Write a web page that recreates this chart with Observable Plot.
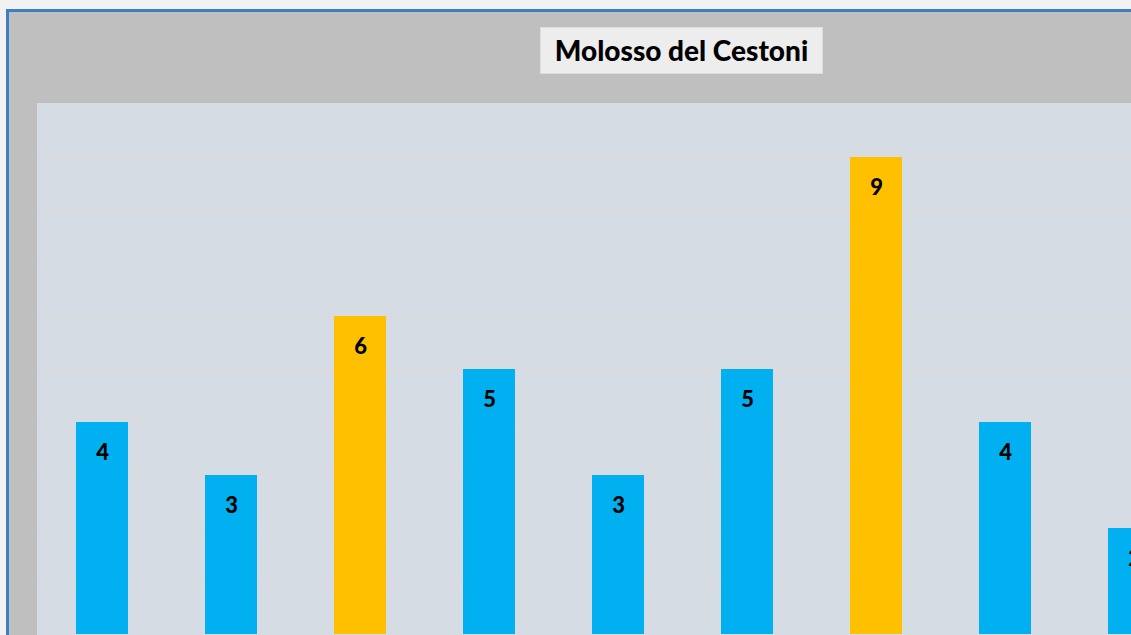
<!DOCTYPE html>
<html>
<head>
<meta charset="utf-8">
<script src="https://cdn.jsdelivr.net/npm/d3@7"></script>
<script src="https://cdn.jsdelivr.net/npm/@observablehq/plot@0.6"></script>
<style>
  html, body { margin: 0; padding: 0; }
  body { width: 1131px; height: 635px; overflow: hidden; background: #f2f2f2; position: relative; }
  #frame { position: absolute; left: 6px; top: 9px; width: 1300px; height: 700px;
           background: #bfbfbf; border: 3px solid #3f7fc1; box-sizing: border-box; }
  #title { position: absolute; left: 540px; top: 27px; width: 283px; height: 47px; box-sizing: border-box;
           background: #ededed; border: 1px solid #dedede; font-family: Lato, "Open Sans", sans-serif;
           font-weight: 900; font-size: 28px; color: #000; text-align: center; line-height: 45px; white-space: nowrap; }
  #chart { position: absolute; left: 37px; top: 103px; width: 1161px; }
  #chart svg { display: block; max-width: none !important; }
</style>
</head>
<body>
<div id="frame"></div>
<div id="title">Molosso del Cestoni</div>
<div id="chart"></div>
<script>
const categories = ["1", "2", "3", "4", "5", "6", "7", "8", "9"];
const values = [4, 3, 6, 5, 3, 5, 9, 4, 2];
const barColors = ["#00b0f0", "#00b0f0", "#ffc000", "#00b0f0", "#00b0f0", "#00b0f0", "#ffc000", "#00b0f0", "#00b0f0"];
const gridValues = [1, 2, 3, 4, 5, 6, 7, 8, 9];

const data = categories.map((c, i) => ({cat: c, value: values[i], color: barColors[i]}));

const chart = Plot.plot({
  width: 1161,
  height: 560,
  marginLeft: 0,
  marginRight: 0,
  marginTop: 1,
  marginBottom: 29,
  style: {background: "#d6dce4", fontFamily: "Lato, 'Open Sans', sans-serif", maxWidth: "none"},
  x: {domain: categories, paddingInner: 0.6, paddingOuter: 0.3, axis: null},
  y: {domain: [0, 10], axis: null},
  marks: [
    Plot.ruleY(gridValues, {stroke: "#d9d9d9", strokeWidth: 2, strokeOpacity: 1}),
    Plot.barY(data, {x: "cat", y: "value", fill: "color"}),
    Plot.text(data, {x: "cat", y: "value", text: d => String(d.value), dy: 30,
                     fill: "#000", fontWeight: 900, fontSize: 22})
  ]
});
document.getElementById("chart").appendChild(chart);
</script>
</body>
</html>
